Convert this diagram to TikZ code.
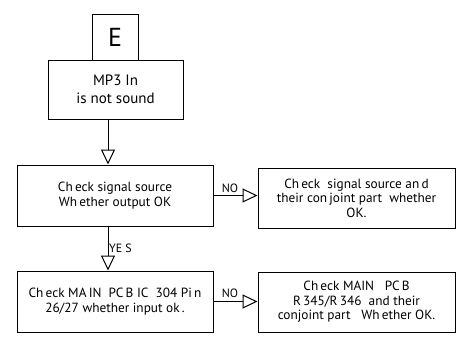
\documentclass[tikz,border=0pt]{standalone}
\usepackage{fontspec}
\setmainfont{PT Sans}
\usetikzlibrary{arrows.meta}
\tikzset{
  box/.style={draw, line width=1pt, align=center, inner sep=0pt, font=\fontsize{13.3}{14.4}\selectfont},
  arr/.style={line width=1pt, -{Triangle[open, length=15pt, width=14pt, line width=1pt]}},
  lab/.style={inner sep=0pt, font=\fontsize{12}{13}\selectfont}
}
\begin{document}
\begin{tikzpicture}[x=1pt,y=-1pt]
\useasboundingbox (0,0) rectangle (462,338);
\node[box, minimum width=46pt, minimum height=46pt, font=\fontsize{26}{28}\selectfont] (e) at (115,37.5) {E};
\node[box, minimum width=135pt, minimum height=59pt, font=\fontsize{15}{18}\selectfont] (mp3) at (115.5,89.5) {MP3 In\\is not sound};
\node[box, minimum width=196pt, minimum height=61pt] (b1) at (115,195.5) {Ch\,eck signal source\\Wh\,ether output OK};
\node[box, minimum width=197pt, minimum height=60pt] (rb1) at (356.5,198) {Ch\,eck\ \ signal source an\,d\\their con\,joint part\ \ whether\\OK.};
\node[box, minimum width=196pt, minimum height=61pt] (b2) at (115,301.5) {Ch\,eck MA\,IN\ \ PC\,B IC\ \ 304 Pi\,n\\26/27 whether input ok\,.};
\node[box, minimum width=197pt, minimum height=60pt] (rb2) at (356.5,302) {Ch\,eck MAIN\ \ \ PC\,B\\R\,345/R\,346\ \ and their\\conjoint part\ \ \ Wh\,ether OK.};
\draw[arr] ([xshift=-7.5pt]mp3.south) -- ([xshift=-7pt]b1.north);
\draw[arr] ([xshift=-7pt]b1.south) -- ([xshift=-7pt]b2.north);
\draw[arr] (b1.east) -- (b1.east -| rb1.west);
\draw[arr] (b2.east) -- (b2.east -| rb2.west);
\node[lab] (no1) at (230,188.5) {NO};
\node[lab] (no2) at (230,293.5) {NO};
\node[lab, anchor=west] (yes) at (109,248) {YE\hspace{3pt}S};
\end{tikzpicture}
\end{document}
